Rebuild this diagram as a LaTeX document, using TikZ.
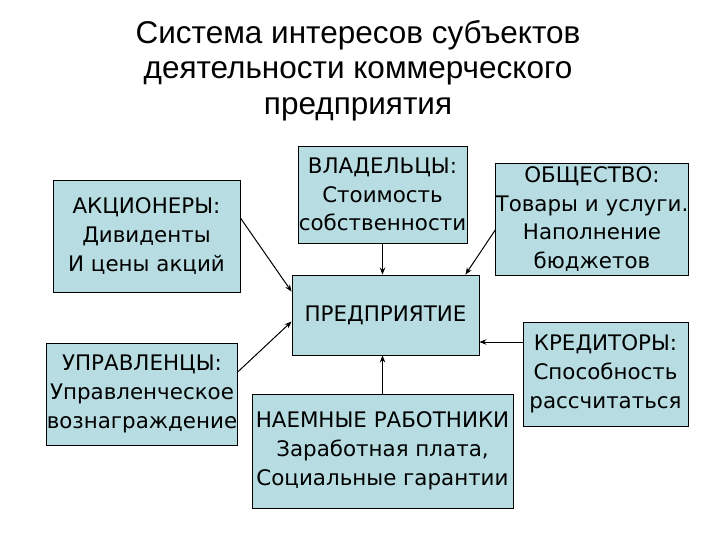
\documentclass[tikz,border=0pt]{standalone}
\usepackage{fontspec}
\setmainfont{DejaVu Sans}
\newfontfamily\titlefont{Liberation Sans}
\usetikzlibrary{arrows.meta}
\definecolor{boxfill}{RGB}{183,221,226}
\tikzset{
  box/.style={draw=black, line width=0.9pt, fill=boxfill, align=center, inner sep=0pt,
    font=\fontsize{21.4}{28.8}\selectfont},
  arr/.style={draw=black, line width=1pt, -{Stealth[length=7pt,width=5.5pt]}}
}
\begin{document}
\begin{tikzpicture}[x=1pt,y=-1pt]
\useasboundingbox[fill=white] (0,0) rectangle (720,540);
\node[font=\titlefont\fontsize{31.5}{35.5}\selectfont, align=center] (title) at (358,70.5)
  {Система интересов субъектов\\деятельности коммерческого\\предприятия};
\node[box, minimum width=187pt, minimum height=112pt] (akc) at (146.5,236)
  {АКЦИОНЕРЫ:\\Дивиденты\\И цены акций};
\node[box, minimum width=169pt, minimum height=97pt] (vlad) at (382.5,194.5)
  {ВЛАДЕЛЬЦЫ:\\Стоимость\\собственности};
\node[box, minimum width=187pt, minimum height=80pt] (pred) at (385.5,315)
  {ПРЕДПРИЯТИЕ};
\node[box, minimum width=192pt, minimum height=112pt] (obsh) at (592,219)
  {ОБЩЕСТВО:\\Товары и услуги.\\Наполнение\\бюджетов};
\node[box, minimum width=165pt, minimum height=104pt] (kred) at (605.5,374)
  {КРЕДИТОРЫ:\\Способность\\рассчитаться};
\node[box, minimum width=188pt, minimum height=102pt] (upr) at (142,394)
  {УПРАВЛЕНЦЫ:\\Управленческое\\вознаграждение};
\node[box, minimum width=261pt, minimum height=114pt] (naem) at (382.5,451)
  {НАЕМНЫЕ РАБОТНИКИ\\Заработная плата,\\Социальные гарантии};
\draw[arr] ([yshift=18pt]akc.east) -- ([yshift=-17pt]pred.north west);
\draw[arr] (vlad.south) -- (vlad.south |- pred.north);
\draw[arr] ([yshift=-11pt]obsh.west) -- ([xshift=-14pt]pred.north east);
\draw[arr] ([yshift=32pt]kred.west) coordinate (k) -- (pred.east |- k);
\draw[arr] ([yshift=22pt]upr.east) -- ([yshift=-47pt]pred.north west);
\draw[arr] (naem.north) -- (naem.north |- pred.south);
\end{tikzpicture}
\end{document}
